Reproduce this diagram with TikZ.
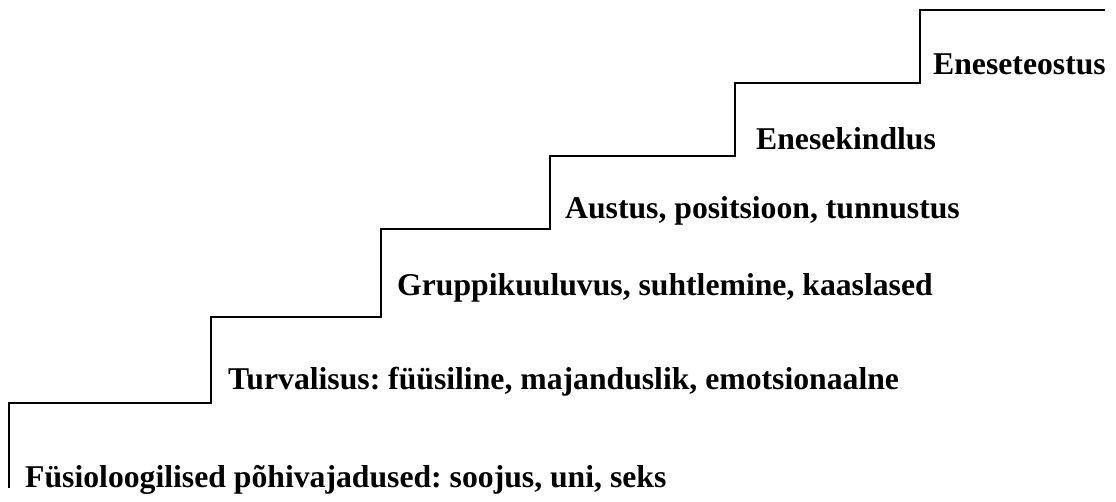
\documentclass[tikz,border=0pt]{standalone}
\usepackage{fontspec}
\setmainfont{Liberation Serif}
\frenchspacing
\begin{document}
\begin{tikzpicture}[x=1pt,y=-1pt,
  lbl/.style={anchor=base west, inner sep=0pt, font=\fontsize{31.7}{38}\selectfont\bfseries\frenchspacing},
  stair/.style={line width=1.6pt}]
\useasboundingbox (0,0) rectangle (1116,502);
\coordinate (p0) at (9,488);
\coordinate (p1) at (9,403);
\coordinate (p2) at (211,403);
\coordinate (p3) at (211,317);
\coordinate (p4) at (381,317);
\coordinate (p5) at (381,229);
\coordinate (p6) at (550,229);
\coordinate (p7) at (550,156);
\coordinate (p8) at (735,156);
\coordinate (p9) at (735,83);
\coordinate (p10) at (920,83);
\coordinate (p11) at (920,10);
\coordinate (p12) at (1105,10);
\draw[stair] (p0) -- (p1) -- (p2) -- (p3) -- (p4) -- (p5) -- (p6) -- (p7) -- (p8) -- (p9) -- (p10) -- (p11) -- (p12);
\node[lbl] (t1) at (25,487) {Füsioloogilised põhivajadused: soojus, uni, seks};
\node[lbl] (t2) at (228,389) {Turvalisus: füüsiline, majanduslik, emotsionaalne};
\node[lbl] (t3) at (397,296) {Gruppikuuluvus, suhtlemine, kaaslased};
\node[lbl] (t4) at (565,219) {Austus, positsioon, tunnustus};
\node[lbl] (t5) at (756,150) {Enesekindlus};
\node[lbl] (t6) at (933,75) {Eneseteostus};
\end{tikzpicture}
\end{document}
